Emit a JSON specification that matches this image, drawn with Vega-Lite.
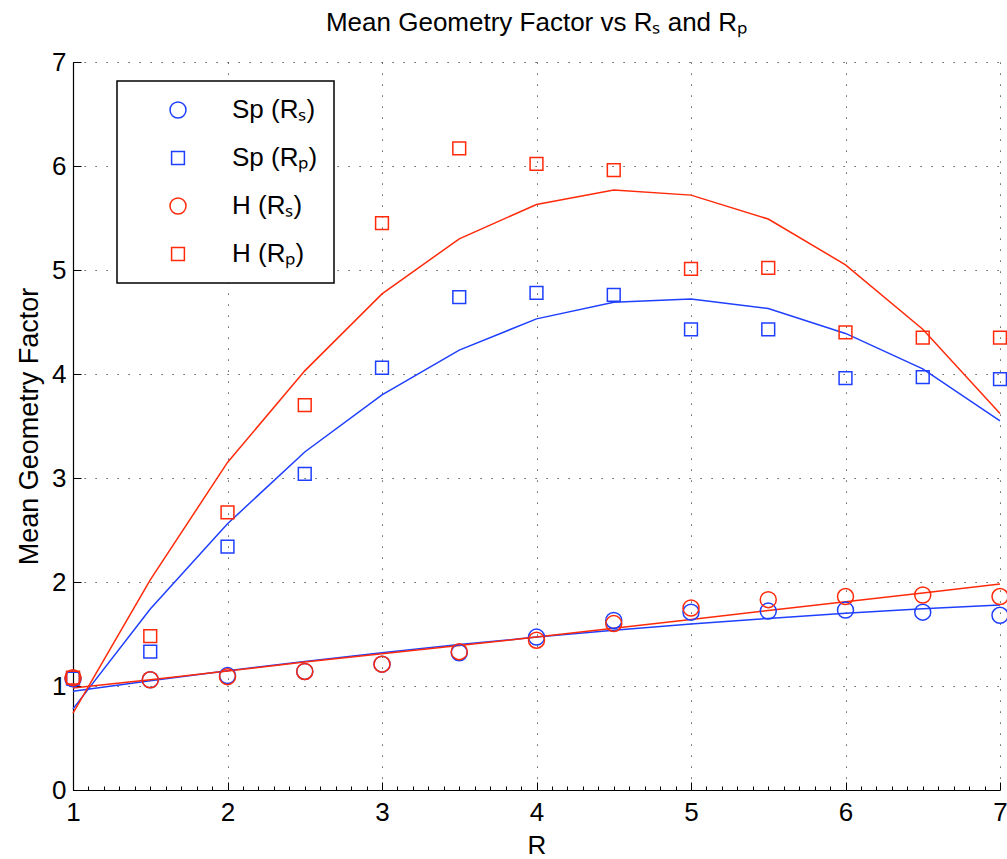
{
  "$schema": "https://vega.github.io/schema/vega-lite/v6.json",
  "width": 927,
  "height": 728,
  "autosize": "none",
  "padding": {"left": 73, "top": 62, "right": 7, "bottom": 69},
  "background": "white",
  "title": {
    "text": "Mean Geometry Factor vs Rₛ and Rₚ",
    "fontSize": 26,
    "font": "Liberation Sans",
    "fontWeight": "normal",
    "color": "black",
    "baseline": "bottom",
    "offset": 16,
    "dy": 29,
    "anchor": "middle"
  },
  "config": {
    "font": "Liberation Sans",
    "view": {"stroke": null},
    "legend": {"strokeWidth": 1.5},
    "axis": {
      "labelFont": "Liberation Sans",
      "titleFont": "Liberation Sans",
      "labelColor": "black",
      "titleColor": "black",
      "titleFontWeight": "normal",
      "domainColor": "black",
      "domainWidth": 1.2,
      "tickColor": "black",
      "gridColor": "#333333",
      "gridDash": [1.2, 9.8],
      "gridWidth": 1
    }
  },
  "datasets": {
    "points": [
      {"R": 1, "series": "Sp (Rₛ)", "value": 1.07},
      {"R": 1.5, "series": "Sp (Rₛ)", "value": 1.06},
      {"R": 2, "series": "Sp (Rₛ)", "value": 1.1},
      {"R": 2.5, "series": "Sp (Rₛ)", "value": 1.14},
      {"R": 3, "series": "Sp (Rₛ)", "value": 1.21},
      {"R": 3.5, "series": "Sp (Rₛ)", "value": 1.32},
      {"R": 4, "series": "Sp (Rₛ)", "value": 1.47},
      {"R": 4.5, "series": "Sp (Rₛ)", "value": 1.63},
      {"R": 5, "series": "Sp (Rₛ)", "value": 1.71},
      {"R": 5.5, "series": "Sp (Rₛ)", "value": 1.72},
      {"R": 6, "series": "Sp (Rₛ)", "value": 1.73},
      {"R": 6.5, "series": "Sp (Rₛ)", "value": 1.71},
      {"R": 7, "series": "Sp (Rₛ)", "value": 1.68},
      {"R": 1, "series": "Sp (Rₚ)", "value": 1.07},
      {"R": 1.5, "series": "Sp (Rₚ)", "value": 1.33},
      {"R": 2, "series": "Sp (Rₚ)", "value": 2.34},
      {"R": 2.5, "series": "Sp (Rₚ)", "value": 3.04},
      {"R": 3, "series": "Sp (Rₚ)", "value": 4.06},
      {"R": 3.5, "series": "Sp (Rₚ)", "value": 4.74},
      {"R": 4, "series": "Sp (Rₚ)", "value": 4.78},
      {"R": 4.5, "series": "Sp (Rₚ)", "value": 4.76},
      {"R": 5, "series": "Sp (Rₚ)", "value": 4.43},
      {"R": 5.5, "series": "Sp (Rₚ)", "value": 4.43},
      {"R": 6, "series": "Sp (Rₚ)", "value": 3.96},
      {"R": 6.5, "series": "Sp (Rₚ)", "value": 3.97},
      {"R": 7, "series": "Sp (Rₚ)", "value": 3.95},
      {"R": 1, "series": "H (Rₛ)", "value": 1.08},
      {"R": 1.5, "series": "H (Rₛ)", "value": 1.06},
      {"R": 2, "series": "H (Rₛ)", "value": 1.09},
      {"R": 2.5, "series": "H (Rₛ)", "value": 1.14},
      {"R": 3, "series": "H (Rₛ)", "value": 1.21},
      {"R": 3.5, "series": "H (Rₛ)", "value": 1.33},
      {"R": 4, "series": "H (Rₛ)", "value": 1.44},
      {"R": 4.5, "series": "H (Rₛ)", "value": 1.6},
      {"R": 5, "series": "H (Rₛ)", "value": 1.75},
      {"R": 5.5, "series": "H (Rₛ)", "value": 1.83},
      {"R": 6, "series": "H (Rₛ)", "value": 1.86},
      {"R": 6.5, "series": "H (Rₛ)", "value": 1.875},
      {"R": 7, "series": "H (Rₛ)", "value": 1.86},
      {"R": 1, "series": "H (Rₚ)", "value": 1.08},
      {"R": 1.5, "series": "H (Rₚ)", "value": 1.48},
      {"R": 2, "series": "H (Rₚ)", "value": 2.67},
      {"R": 2.5, "series": "H (Rₚ)", "value": 3.7},
      {"R": 3, "series": "H (Rₚ)", "value": 5.45},
      {"R": 3.5, "series": "H (Rₚ)", "value": 6.17},
      {"R": 4, "series": "H (Rₚ)", "value": 6.02},
      {"R": 4.5, "series": "H (Rₚ)", "value": 5.96},
      {"R": 5, "series": "H (Rₚ)", "value": 5.01},
      {"R": 5.5, "series": "H (Rₚ)", "value": 5.02},
      {"R": 6, "series": "H (Rₚ)", "value": 4.4},
      {"R": 6.5, "series": "H (Rₚ)", "value": 4.35},
      {"R": 7, "series": "H (Rₚ)", "value": 4.35}
    ],
    "fits": [
      {"R": 1, "series": "Sp (Rₛ)", "value": 0.95},
      {"R": 1.5, "series": "Sp (Rₛ)", "value": 1.05},
      {"R": 2, "series": "Sp (Rₛ)", "value": 1.147},
      {"R": 2.5, "series": "Sp (Rₛ)", "value": 1.236},
      {"R": 3, "series": "Sp (Rₛ)", "value": 1.32},
      {"R": 3.5, "series": "Sp (Rₛ)", "value": 1.398},
      {"R": 4, "series": "Sp (Rₛ)", "value": 1.47},
      {"R": 4.5, "series": "Sp (Rₛ)", "value": 1.536},
      {"R": 5, "series": "Sp (Rₛ)", "value": 1.596},
      {"R": 5.5, "series": "Sp (Rₛ)", "value": 1.65},
      {"R": 6, "series": "Sp (Rₛ)", "value": 1.7},
      {"R": 6.5, "series": "Sp (Rₛ)", "value": 1.743},
      {"R": 7, "series": "Sp (Rₛ)", "value": 1.78},
      {"R": 1, "series": "Sp (Rₚ)", "value": 0.78},
      {"R": 1.5, "series": "Sp (Rₚ)", "value": 1.74},
      {"R": 2, "series": "Sp (Rₚ)", "value": 2.56},
      {"R": 2.5, "series": "Sp (Rₚ)", "value": 3.25},
      {"R": 3, "series": "Sp (Rₚ)", "value": 3.8},
      {"R": 3.5, "series": "Sp (Rₚ)", "value": 4.23},
      {"R": 4, "series": "Sp (Rₚ)", "value": 4.53},
      {"R": 4.5, "series": "Sp (Rₚ)", "value": 4.69},
      {"R": 5, "series": "Sp (Rₚ)", "value": 4.72},
      {"R": 5.5, "series": "Sp (Rₚ)", "value": 4.63},
      {"R": 6, "series": "Sp (Rₚ)", "value": 4.39},
      {"R": 6.5, "series": "Sp (Rₚ)", "value": 4.05},
      {"R": 7, "series": "Sp (Rₚ)", "value": 3.55},
      {"R": 1, "series": "H (Rₛ)", "value": 0.98},
      {"R": 1.5, "series": "H (Rₛ)", "value": 1.06},
      {"R": 2, "series": "H (Rₛ)", "value": 1.145},
      {"R": 2.5, "series": "H (Rₛ)", "value": 1.23},
      {"R": 3, "series": "H (Rₛ)", "value": 1.31},
      {"R": 3.5, "series": "H (Rₛ)", "value": 1.39},
      {"R": 4, "series": "H (Rₛ)", "value": 1.47},
      {"R": 4.5, "series": "H (Rₛ)", "value": 1.555},
      {"R": 5, "series": "H (Rₛ)", "value": 1.64},
      {"R": 5.5, "series": "H (Rₛ)", "value": 1.725},
      {"R": 6, "series": "H (Rₛ)", "value": 1.81},
      {"R": 6.5, "series": "H (Rₛ)", "value": 1.895},
      {"R": 7, "series": "H (Rₛ)", "value": 1.98},
      {"R": 1, "series": "H (Rₚ)", "value": 0.74},
      {"R": 1.5, "series": "H (Rₚ)", "value": 2.02},
      {"R": 2, "series": "H (Rₚ)", "value": 3.15},
      {"R": 2.5, "series": "H (Rₚ)", "value": 4.03},
      {"R": 3, "series": "H (Rₚ)", "value": 4.77},
      {"R": 3.5, "series": "H (Rₚ)", "value": 5.3},
      {"R": 4, "series": "H (Rₚ)", "value": 5.63},
      {"R": 4.5, "series": "H (Rₚ)", "value": 5.77},
      {"R": 5, "series": "H (Rₚ)", "value": 5.72},
      {"R": 5.5, "series": "H (Rₚ)", "value": 5.49},
      {"R": 6, "series": "H (Rₚ)", "value": 5.05},
      {"R": 6.5, "series": "H (Rₚ)", "value": 4.43},
      {"R": 7, "series": "H (Rₚ)", "value": 3.62}
    ]
  },
  "encoding": {
    "x": {
      "field": "R",
      "type": "quantitative",
      "scale": {"domain": [1, 7], "nice": false, "zero": false},
      "axis": {
        "title": "R",
        "titleFontSize": 26,
        "titlePadding": 3,
        "labelFontSize": 26,
        "labelPadding": 17,
        "labelOverlap": false,
        "labelFlush": false,
        "values": [1, 1.1, 1.2, 1.3, 1.4, 1.5, 1.6, 1.7, 1.8, 1.9, 2, 2.1, 2.2, 2.3, 2.4, 2.5, 2.6, 2.7, 2.8, 2.9, 3, 3.1, 3.2, 3.3, 3.4, 3.5, 3.6, 3.7, 3.8, 3.9, 4, 4.1, 4.2, 4.3, 4.4, 4.5, 4.6, 4.7, 4.8, 4.9, 5, 5.1, 5.2, 5.3, 5.4, 5.5, 5.6, 5.7, 5.8, 5.9, 6, 6.1, 6.2, 6.3, 6.4, 6.5, 6.6, 6.7, 6.8, 6.9, 7],
        "labelExpr": "datum.value % 1 == 0 ? format(datum.value, 'd') : ''",
        "tickSize": {"condition": {"test": "datum.value % 1 == 0", "value": -8}, "value": -4},
        "gridOpacity": {"condition": {"test": "datum.value % 1 == 0", "value": 1}, "value": 0},
        "grid": true
      }
    },
    "y": {
      "field": "value",
      "type": "quantitative",
      "scale": {"domain": [0, 7], "nice": false},
      "axis": {
        "title": "Mean Geometry Factor",
        "titleFontSize": 27,
        "titlePadding": 8,
        "labelFontSize": 26,
        "labelPadding": 15,
        "labelOverlap": false,
        "labelFlush": false,
        "values": [0, 1, 2, 3, 4, 5, 6, 7],
        "format": "d",
        "tickSize": -8,
        "grid": true
      }
    }
  },
  "layer": [
    {
      "data": {"name": "fits"},
      "transform": [{"filter": {"field": "series", "oneOf": ["Sp (Rₛ)", "Sp (Rₚ)"]}}],
      "mark": {"type": "line", "strokeWidth": 1.5, "color": "#1f3fff"},
      "encoding": {"detail": {"field": "series", "type": "nominal"}}
    },
    {
      "data": {"name": "fits"},
      "transform": [{"filter": {"field": "series", "oneOf": ["H (Rₛ)", "H (Rₚ)"]}}],
      "mark": {"type": "line", "strokeWidth": 1.5, "color": "#ff2a0a"},
      "encoding": {"detail": {"field": "series", "type": "nominal"}}
    },
    {
      "data": {"name": "points"},
      "mark": {"type": "point", "filled": false, "strokeWidth": 1.5, "opacity": 1, "size": 256},
      "encoding": {
        "color": {
          "field": "series",
          "type": "nominal",
          "scale": {
            "domain": ["Sp (Rₛ)", "Sp (Rₚ)", "H (Rₛ)", "H (Rₚ)"],
            "range": ["#1f3fff", "#1f3fff", "#ff2a0a", "#ff2a0a"]
          },
          "legend": {
            "title": null,
            "orient": "none",
            "legendX": 44,
            "legendY": 19,
            "strokeColor": "black",
            "fillColor": "white",
            "padding": 16,
            "rowPadding": 22,
            "symbolSize": 256,
            "symbolStrokeWidth": 1.5,
            "symbolOffset": 32,
            "labelOffset": 41,
            "labelFontSize": 26,
            "labelFont": "Liberation Sans",
            "labelColor": "black",
            "labelExpr": "datum.label + '\u00a0\u00a0\u00a0'"
          }
        },
        "shape": {
          "field": "series",
          "type": "nominal",
          "scale": {
            "domain": ["Sp (Rₛ)", "Sp (Rₚ)", "H (Rₛ)", "H (Rₚ)"],
            "range": ["circle", "M-0.8,-0.8H0.8V0.8H-0.8Z", "circle", "M-0.8,-0.8H0.8V0.8H-0.8Z"]
          }
        }
      }
    }
  ]
}
